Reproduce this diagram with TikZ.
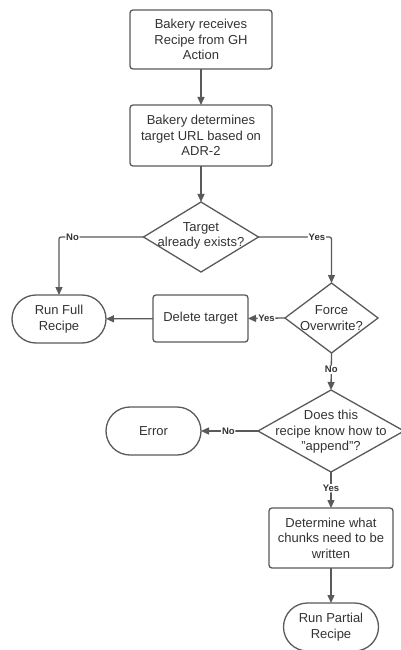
\documentclass[tikz,border=0pt]{standalone}
\usepackage{fontspec}
\setmainfont{Liberation Sans}
\usetikzlibrary{shapes.geometric,arrows.meta}
\definecolor{edge}{HTML}{5A5A5A}
\definecolor{ink}{HTML}{333333}
\tikzset{
  base/.style={draw=edge, line width=1.3pt, text=ink, font=\fontsize{13}{15.5}\selectfont,
               align=center, inner sep=0pt, outer sep=0pt},
  procbox/.style={base, rectangle, rounded corners=3pt},
  termbox/.style={base, rectangle, rounded corners=24pt},
  dia/.style={base, diamond},
  link/.style={draw=edge, line width=1.3pt, rounded corners=2pt,
               -{Triangle[length=8pt,width=7pt]}},
  lbl/.style={fill=white, text=ink, font=\fontsize{9.5}{10}\selectfont\bfseries,
              inner sep=0.8pt}
}
\begin{document}
\begin{tikzpicture}[x=1pt,y=-1pt]
\useasboundingbox[fill=white] (0,0) rectangle (401,650);

% process steps
\node[procbox, minimum width=142, minimum height=59] (recv) at (201,39.5)
  {Bakery receives\\Recipe from GH\\Action};
\node[procbox, minimum width=142, minimum height=61] (url) at (201,135.5)
  {Bakery determines\\target URL based on\\ADR-2};

% decisions
\node[dia, minimum width=115, minimum height=70,
      label={[text=ink, font=\fontsize{13}{15.5}\selectfont, align=center, yshift=1pt]center:Target\\already exists?}]
  (exists) at (201,237) {};
\node[dia, minimum width=93, minimum height=70,
      label={[text=ink, font=\fontsize{13}{15.5}\selectfont, align=center]center:Force\\Overwrite?}]
  (force) at (331.5,318) {};
\node[dia, minimum width=146, minimum height=82,
      label={[text=ink, font=\fontsize{13}{15.5}\selectfont, align=center, yshift=-1pt]center:Does this\\recipe know how to\\"append"?}]
  (append) at (331,431) {};

% outcomes
\node[termbox, minimum width=94, minimum height=48] (full) at (59,319) {Run Full\\Recipe};
\node[procbox, minimum width=95, minimum height=47] (delete) at (200.5,318.5) {Delete target};
\node[termbox, minimum width=95, minimum height=48] (error) at (153.5,431) {Error};
\node[procbox, minimum width=124, minimum height=60] (chunks) at (331,538) {Determine what\\chunks need to be\\written};
\node[termbox, minimum width=95, minimum height=48] (partial) at (331,627) {Run Partial\\Recipe};

% connectors
\draw[link] (recv) -- (url);
\draw[link] (url) -- (exists);
\draw[link] (exists.west) -| node[lbl, pos=0.42] {No} (full.north);
\draw[link] (exists.east) -| node[lbl, pos=0.4] {Yes} (force.north);
\draw[link] (force.west) -- node[lbl, pos=0.5] {Yes} (delete.east);
\draw[link] (delete) -- (full);
\draw[link] (force.south) -- node[lbl, pos=0.45] {No} (append.north);
\draw[link] (append.west) -- node[lbl, pos=0.52] {No} (error.east);
\draw[link] (append.south) -- node[lbl, pos=0.45] {Yes} (chunks.north);
\draw[link] (chunks) -- (partial);
\end{tikzpicture}
\end{document}
